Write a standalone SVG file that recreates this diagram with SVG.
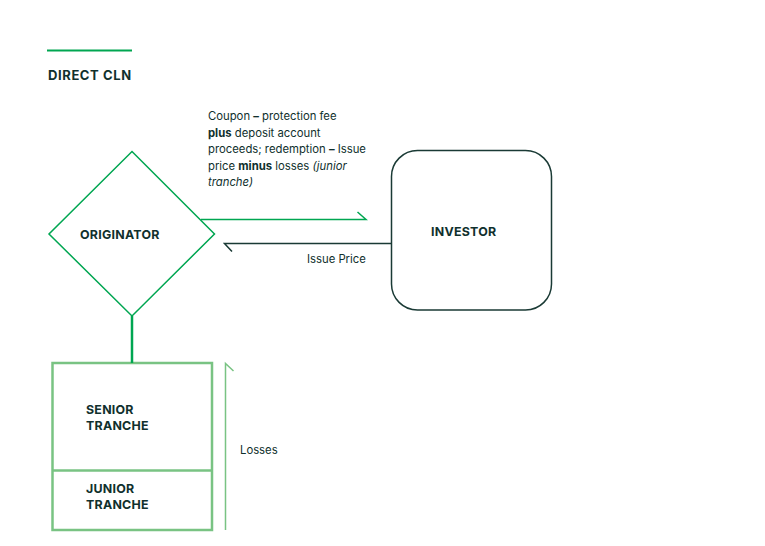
<svg xmlns="http://www.w3.org/2000/svg" width="765" height="546" viewBox="0 0 765 546">
<style>
text{font-family:Inter,"Liberation Sans",sans-serif;fill:#10302d}
.b{font-weight:700;font-size:12.4px;letter-spacing:0.25px}
.r{font-size:11.3px}
.g{stroke:#00a651;fill:none}
.lg{stroke:#79c383;fill:none}
.dk{stroke:#1a3a35;fill:none}
</style>
<rect width="765" height="546" fill="#fff"/>
<line x1="47" y1="50.5" x2="132" y2="50.5" class="g" stroke-width="2"/>
<text x="48" y="80" class="b" style="font-size:13px;letter-spacing:0.6px">DIRECT CLN</text>
<g id="originator">
<polygon points="132,151.5 214.5,234 132,316 49,234" class="g" stroke-width="1.5"/>
<text x="80" y="239" class="b">ORIGINATOR</text>
</g>
<g id="investor">
<rect x="391.5" y="150.5" width="160" height="159.5" rx="26" class="dk" stroke-width="1.5"/>
<text x="431" y="236" class="b">INVESTOR</text>
</g>
<g id="tranches">
<rect x="52.5" y="363" width="159.5" height="167" class="lg" stroke-width="2.5"/>
<line x1="52.5" y1="470.5" x2="212" y2="470.5" class="lg" stroke-width="2.5"/>
<text x="86" y="414" class="b">SENIOR</text>
<text x="86" y="430" class="b">TRANCHE</text>
<text x="86" y="493" class="b">JUNIOR</text>
<text x="86" y="509" class="b">TRANCHE</text>
</g>
<g id="connectors">
<line x1="132" y1="316" x2="132" y2="363" class="g" stroke-width="2.5"/>
<polyline points="201,219.5 366,219.5 357.5,212" class="g" stroke-width="1.5"/>
<polyline points="391.5,243.5 224.5,243.5 232,251.5" class="dk" stroke-width="1.5"/>
<polyline points="225.5,530 225.5,363.5 233.5,371" class="lg" stroke-width="1.5"/>
</g>
<g id="labels">
<text x="208" y="120" class="r">Coupon <tspan font-weight="700">–</tspan> protection fee</text>
<text x="208" y="136.5" class="r"><tspan font-weight="700">plus</tspan> deposit account</text>
<text x="208" y="153" class="r">proceeds; redemption <tspan font-weight="700">–</tspan> Issue</text>
<text x="208" y="169.5" class="r">price <tspan font-weight="700">minus</tspan> losses <tspan font-style="italic">(junior</tspan></text>
<text x="208" y="186" class="r" font-style="italic">tranche)</text>
<text x="307" y="263" class="r">Issue Price</text>
<text x="240" y="454" class="r">Losses</text>
</g>
</svg>
